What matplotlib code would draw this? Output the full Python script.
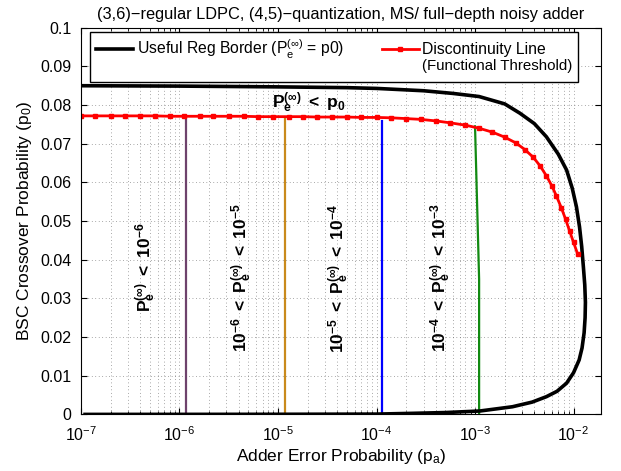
import matplotlib
matplotlib.use('Agg')
import matplotlib.pyplot as plt
from matplotlib.lines import Line2D

plt.rcParams['font.family'] = ['Liberation Sans', 'DejaVu Sans']
plt.rcParams['mathtext.fontset'] = 'custom'
plt.rcParams['mathtext.rm'] = 'Liberation Sans'
plt.rcParams['mathtext.it'] = 'Liberation Sans'
plt.rcParams['mathtext.bf'] = 'Liberation Sans:bold'

# Useful region border (closed C-shaped curve): top branch -> bottom branch
border_pa = [1e-7, 1e-6, 1e-5, 5e-5, 1e-4, 3e-4, 6e-4, 1.1e-3, 2e-3, 2.85e-3,
             4e-3, 5.3e-3, 7e-3, 8.5e-3, 9.7e-3, 1.07e-2, 1.15e-2, 1.21e-2,
             1.26e-2, 1.3e-2, 1.32e-2, 1.31e-2, 1.28e-2, 1.22e-2, 1.14e-2,
             1.0e-2, 8.5e-3, 6.8e-3, 5.3e-3, 3.8e-3, 2.4e-3, 1.12e-3, 5e-4,
             2.35e-4, 1e-4, 1e-5, 1e-6, 1.1e-7]
border_p0 = [0.0850, 0.0849, 0.0847, 0.0845, 0.0843, 0.0837, 0.0830, 0.0822,
             0.0803, 0.0779, 0.0752, 0.0718, 0.0673, 0.0632, 0.0585, 0.0537,
             0.0485, 0.0434, 0.0380, 0.0335, 0.0290, 0.0250, 0.0211, 0.0172,
             0.0141, 0.0108, 0.0081, 0.0060, 0.0046, 0.0032, 0.0020, 0.0009,
             0.0005, 0.0003, 0.0001, 0.00005, 0.00003, 0.00002]

# Discontinuity line (functional threshold)
disc_pa = [1e-7, 1.4e-7, 2e-7, 2.8e-7, 4e-7, 5.6e-7, 8e-7, 1.1e-6, 1.6e-6,
           2.2e-6, 3.2e-6, 4.5e-6, 6.3e-6, 9e-6, 1.3e-5, 1.8e-5, 2.5e-5,
           3.5e-5, 5e-5, 7e-5, 1e-4, 1.4e-4, 2e-4, 2.8e-4, 4e-4, 5.6e-4,
           8e-4, 1.1e-3, 1.5e-3, 2e-3, 2.6e-3, 3.2e-3, 3.9e-3, 4.6e-3,
           5.3e-3, 6e-3, 6.7e-3, 7.5e-3, 8.3e-3, 9.1e-3, 1.0e-2, 1.1e-2]
disc_p0 = [0.0772, 0.0772, 0.0772, 0.0772, 0.0772, 0.0772, 0.0771, 0.0771,
           0.0771, 0.0771, 0.0771, 0.0771, 0.0770, 0.0770, 0.0770, 0.0770,
           0.0769, 0.0769, 0.0769, 0.0768, 0.0768, 0.0767, 0.0765, 0.0763,
           0.0759, 0.0754, 0.0748, 0.0740, 0.0730, 0.0717, 0.0702, 0.0685,
           0.0665, 0.0642, 0.0617, 0.0592, 0.0565, 0.0535, 0.0505, 0.0475,
           0.0445, 0.0415]

# Contour lines of constant P_e^(inf)
contour_pa = [[1.17e-6, 1.17e-6], [1.18e-5, 1.18e-5], [1.14e-4, 1.14e-4],
              [1.0e-3, 1.1e-3, 1.1e-3]]
contour_p0 = [[0.0, 0.0771], [0.0, 0.0770], [0.0, 0.0758],
              [0.0745, 0.035, 0.0]]
contour_colors = ['#6e426c', '#c98a1c', '#0000ff', '#128a12']

region_labels = [r'$\mathbf{P_e^{(\infty)}\ <\ 10^{-6}}$',
                 r'$\mathbf{10^{-6}\ <\ P_e^{(\infty)}\ <\ 10^{-5}}$',
                 r'$\mathbf{10^{-5}\ <\ P_e^{(\infty)}\ <\ 10^{-4}}$',
                 r'$\mathbf{10^{-4}\ <\ P_e^{(\infty)}\ <\ 10^{-3}}$']
region_pa = [4.5e-7, 4.3e-6, 4.1e-5, 4.5e-4]
region_p0 = [0.038, 0.0353, 0.0353, 0.0353]

fig = plt.figure(figsize=(6.21, 4.71), dpi=100)
ax = fig.add_axes([0.1304, 0.120, 0.8374, 0.8212])

ax.set_xscale('log')
ax.set_xlim(1e-7, 1.9e-2)
ax.set_ylim(0, 0.1)
ax.set_yticks([i / 100 for i in range(11)])
ax.set_yticklabels(['0', '0.01', '0.02', '0.03', '0.04', '0.05', '0.06',
                    '0.07', '0.08', '0.09', '0.1'])

grid_style = dict(linestyle=(0, (1, 4)), color='0.35', linewidth=0.5)
ax.grid(True, which='major', axis='both', **grid_style)
ax.grid(True, which='minor', axis='x', **grid_style)
ax.set_axisbelow(True)

for xs, ys, c in zip(contour_pa, contour_p0, contour_colors):
    ax.plot(xs, ys, color=c, linewidth=1.6)

l1, = ax.plot(border_pa, border_p0, color='black', linewidth=2.6)
l2, = ax.plot(disc_pa, disc_p0, color='red', linewidth=2.0, marker='s',
              markersize=3.5, markeredgecolor='red')

for txt, xv, yv in zip(region_labels, region_pa, region_p0):
    ax.text(xv, yv, txt, rotation=90, ha='center', va='center', fontsize=12.5)

ax.text(2.07e-5, 0.0805, r'$\mathbf{P_e^{(\infty)}\ <\ p_0}$', ha='center',
        va='center', fontsize=12.5)

ax.tick_params(which='both', direction='in', top=True, right=True, labelsize=11.5)
ax.tick_params(which='major', length=4)
ax.tick_params(which='minor', length=2)
ax.tick_params(axis='x', pad=8)
ax.tick_params(axis='y', pad=7)

blank = Line2D([], [], color='none')
leg = ax.legend([l1, blank, l2, blank],
                [r'Useful Reg Border (P$_e^{(\infty)}$ = p0)', ' ',
                 'Discontinuity Line', '(Functional Threshold)'],
                ncol=2, loc='upper center', bbox_to_anchor=(0.487, 0.989),
                borderaxespad=0, fontsize=11.3, fancybox=False,
                edgecolor='black', framealpha=1, handlelength=2.4,
                handletextpad=0.2, columnspacing=2.4, labelspacing=0.15,
                borderpad=0.35)
leg.get_frame().set_linewidth(1.0)
leg.get_texts()[1].set_fontsize(10.8)
leg.get_texts()[3].set_fontsize(10.8)

ax.set_title(u'(3,6)\u2212regular LDPC, (4,5)\u2212quantization, MS/ full\u2212depth noisy adder',
             fontsize=11.8, pad=6)
ax.set_xlabel('Adder Error Probability (p$_a$)', fontsize=12.5, labelpad=2)
ax.set_ylabel('BSC Crossover Probability (p$_0$)', fontsize=12.5, labelpad=4)

fig.savefig('out.png', dpi=100)
